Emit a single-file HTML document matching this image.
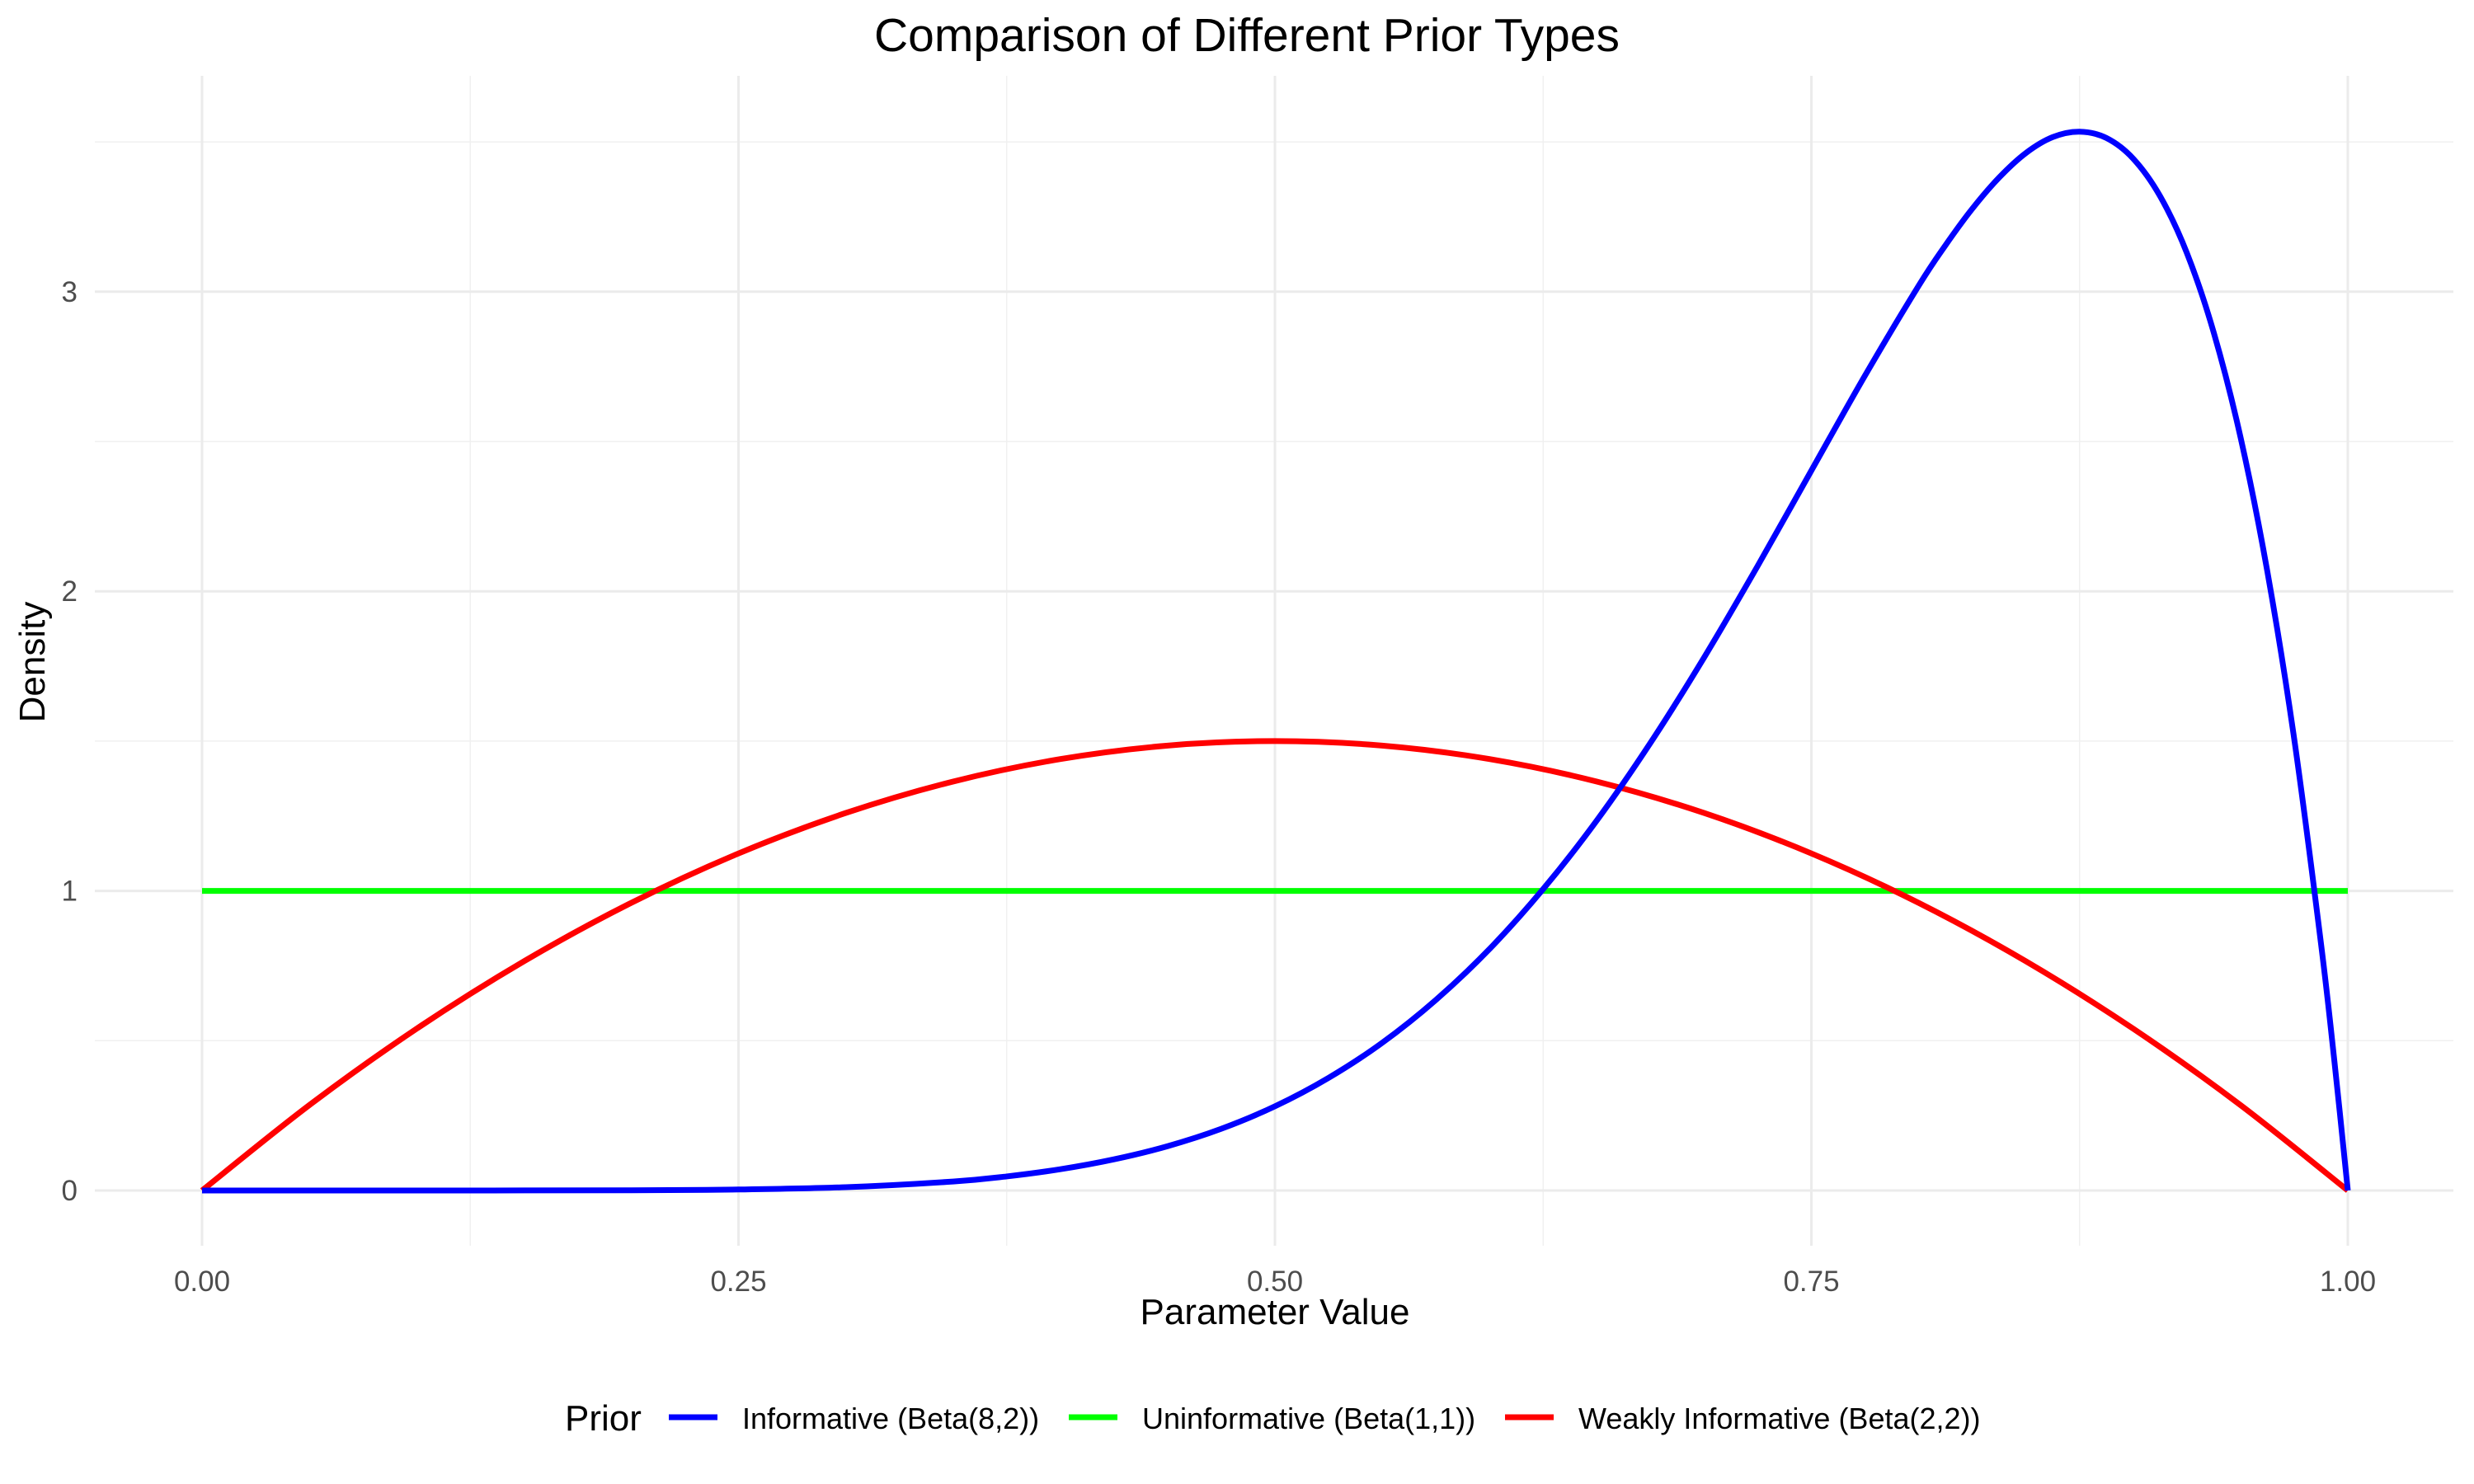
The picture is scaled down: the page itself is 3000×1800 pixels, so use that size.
<!DOCTYPE html>
<html><head><meta charset="utf-8"><style>
html,body{margin:0;padding:0;background:#fff;}
svg{display:block;font-family:"Liberation Sans",Arial,sans-serif;}
</style></head><body>
<svg id="chart" width="3000" height="1800" viewBox="0 0 3000 1800" xmlns="http://www.w3.org/2000/svg">
<rect width="3000" height="1800" fill="#fff"/>
<g id="grid"></g>
<g id="ticks"></g>
<g id="series"></g>
<text x="1512" y="62" text-anchor="middle" font-size="57" fill="#000">Comparison of Different Prior Types</text>
<text x="1546" y="1606" text-anchor="middle" font-size="44" fill="#000">Parameter Value</text>
<text transform="translate(54,803) rotate(-90)" text-anchor="middle" font-size="44" fill="#000">Density</text>
<g id="legend"></g>
</svg>
<script>
const xTicks=[0,0.25,0.5,0.75,1];
const xTickLabels=["0.00","0.25","0.50","0.75","1.00"];
const yTicks=[0,1,2,3];
const yTickLabels=["0","1","2","3"];
const xMinor=[0.125,0.375,0.625,0.875];
const yMinor=[0.5,1.5,2.5,3.5];
const seriesNames=["Informative (Beta(8,2))","Uninformative (Beta(1,1))","Weakly Informative (Beta(2,2))"];
const seriesColors=["#0000ff","#00ff00","#ff0000"];
const infX=[0,0.1,0.2,0.25,0.3,0.35,0.375,0.4,0.425,0.45,0.475,0.5,0.525,0.55,0.575,0.6,0.625,0.65,0.675,0.7,0.725,0.75,0.775,0.8,0.8125,0.825,0.8375,0.85,0.8625,0.875,0.8875,0.9,0.9125,0.925,0.9375,0.95,0.9625,0.975,0.9875,0.99375,1];
const infY=[0,0.00001,0.0007,0.0033,0.011,0.030,0.047,0.071,0.104,0.148,0.206,0.281,0.376,0.493,0.636,0.806,1.006,1.235,1.494,1.779,2.085,2.403,2.720,3.020,3.155,3.277,3.381,3.463,3.516,3.534,3.513,3.444,3.319,3.129,2.864,2.514,2.066,1.508,0.824,0.431,0];
const uniX=[0,1];
const uniY=[1,1];
const weakX=[0,0.05,0.1,0.15,0.2,0.25,0.3,0.35,0.4,0.45,0.5,0.55,0.6,0.65,0.7,0.75,0.8,0.85,0.9,0.95,1];
const weakY=[0,0.285,0.54,0.765,0.96,1.125,1.26,1.365,1.44,1.485,1.5,1.485,1.44,1.365,1.26,1.125,0.96,0.765,0.54,0.285,0];

const NS="http://www.w3.org/2000/svg";
const X0=245,X1=2847,Y0=1444,YU=363.4,PL=115,PR=2975,PT=92,PB=1511;
const sx=v=>X0+(X1-X0)*v, sy=v=>Y0-YU*v;
function mk(tag,attrs,parent){const e=document.createElementNS(NS,tag);for(const k in attrs)e.setAttribute(k,attrs[k]);parent.appendChild(e);return e;}
const grid=document.getElementById('grid'),ticks=document.getElementById('ticks'),series=document.getElementById('series'),legend=document.getElementById('legend');
xMinor.forEach(v=>{const l=mk('line',{x1:sx(v),x2:sx(v),y1:PT,y2:PB,stroke:'#f0f0f0','stroke-width':1.5},grid);

});
yMinor.forEach(v=>{const l=mk('line',{x1:PL,x2:PR,y1:sy(v),y2:sy(v),stroke:'#f0f0f0','stroke-width':1.5},grid);

});
xTicks.forEach((v,i)=>{const l=mk('line',{x1:sx(v),x2:sx(v),y1:PT,y2:PB,stroke:'#ebebeb','stroke-width':3},grid);


const t=mk('text',{x:sx(v),y:1566,'text-anchor':'middle','font-size':35,fill:'#4d4d4d'},ticks);t.textContent=xTickLabels[i];

});
yTicks.forEach((v,i)=>{const l=mk('line',{x1:PL,x2:PR,y1:sy(v),y2:sy(v),stroke:'#ebebeb','stroke-width':3},grid);


const t=mk('text',{x:94,y:sy(v)+12,'text-anchor':'end','font-size':35,fill:'#4d4d4d'},ticks);t.textContent=yTickLabels[i];

});
const data=[[infX,infY],[uniX,uniY],[weakX,weakY]];
const order=[1,2,0];
const names=['informative-line','uninformative-line','weakly-informative-line'];
function smooth(xs,ys){const p=xs.map((x,i)=>[sx(x),sy(ys[i])]);let d='M'+p[0][0]+','+p[0][1];
for(let i=0;i<p.length-1;i++){const p0=p[i-1]||p[i],p1=p[i],p2=p[i+1],p3=p[i+2]||p[i+1];
const c1=[p1[0]+(p2[0]-p0[0])/6,p1[1]+(p2[1]-p0[1])/6],c2=[p2[0]-(p3[0]-p1[0])/6,p2[1]-(p3[1]-p1[1])/6];
d+=` C${c1[0]},${c1[1]} ${c2[0]},${c2[1]} ${p2[0]},${p2[1]}`;}return d;}
order.forEach(i=>{const [xs,ys]=data[i];const p=mk('path',{d:smooth(xs,ys),fill:'none',stroke:seriesColors[i],'stroke-width':7,'stroke-linejoin':'round'},series);

});
const pt=mk('text',{x:685,y:1735,'font-size':44,fill:'#000'},legend);pt.textContent='Prior';


const lx=[811,1296,1825];
seriesNames.forEach((n,i)=>{const g=mk('g',{},legend);


mk('line',{x1:lx[i],x2:lx[i]+59,y1:1719,y2:1719,stroke:seriesColors[i],'stroke-width':7},g);
const t=mk('text',{x:lx[i]+89,y:1733,'font-size':36,fill:'#000'},g);t.textContent=n;});
</script>
</body></html>
